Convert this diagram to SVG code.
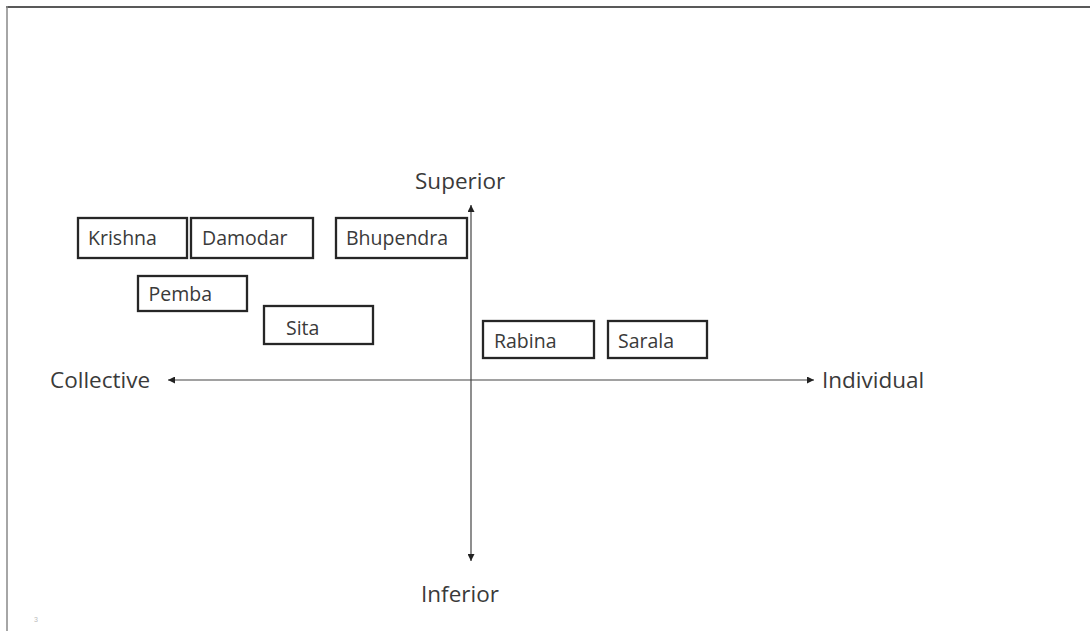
<svg xmlns="http://www.w3.org/2000/svg" width="1090" height="631" viewBox="0 0 1090 631">
<style>
.box{fill:#fff;stroke:#262626;stroke-width:2.3}
.bt{font-family:"Open Sans","Liberation Sans",sans-serif;font-size:19.5px;fill:#3a3a3a}
.ax{font-family:"Open Sans","Liberation Sans",sans-serif;font-size:22.5px;fill:#3a3a3a}
.axis{stroke:#444;stroke-width:1.2;fill:none}
</style>
<defs>
<marker id="ah" viewBox="0 0 10 10" refX="10" refY="5" markerWidth="7" markerHeight="7" markerUnits="userSpaceOnUse" orient="auto">
<path d="M0,0 L10,5 L0,10 z" fill="#222"/>
</marker>
</defs>
<rect width="1090" height="631" fill="#fff"/>
<line x1="6" y1="7" x2="1090" y2="7" stroke="#222" stroke-width="1.5"/>
<line x1="7" y1="6" x2="7" y2="631" stroke="#888" stroke-width="1.5"/>
<text x="34" y="622" font-family="Liberation Sans, sans-serif" font-size="7" fill="#bbb">3</text>
<g id="connectors">
<line class="axis" x1="471" y1="380" x2="471" y2="205" marker-end="url(#ah)"/>
<line class="axis" x1="471" y1="380" x2="471" y2="561" marker-end="url(#ah)"/>
<line class="axis" x1="471" y1="380" x2="168" y2="380" marker-end="url(#ah)"/>
<line class="axis" x1="471" y1="380" x2="814" y2="380" marker-end="url(#ah)"/>
</g>
<g id="labels">
<text class="ax" x="415" y="188.5">Superior</text>
<text class="ax" x="421" y="601.5">Inferior</text>
<text class="ax" x="50" y="388">Collective</text>
<text class="ax" x="822" y="388">Individual</text>
</g>
<g id="krishna"><rect class="box" x="78" y="218" width="109" height="40"/><text class="bt" x="88" y="245">Krishna</text></g>
<g id="damodar"><rect class="box" x="191" y="218" width="122" height="40"/><text class="bt" x="202" y="245">Damodar</text></g>
<g id="bhupendra"><rect class="box" x="336" y="218" width="131" height="40"/><text class="bt" x="346" y="245">Bhupendra</text></g>
<g id="pemba"><rect class="box" x="138" y="276" width="109" height="35"/><text class="bt" x="148.5" y="301">Pemba</text></g>
<g id="sita"><rect class="box" x="264" y="306" width="109" height="38"/><text class="bt" x="286" y="335">Sita</text></g>
<g id="rabina"><rect class="box" x="483" y="321" width="111" height="37"/><text class="bt" x="494" y="347.5">Rabina</text></g>
<g id="sarala"><rect class="box" x="608" y="321" width="99" height="37"/><text class="bt" x="618" y="347.5">Sarala</text></g>
</svg>
